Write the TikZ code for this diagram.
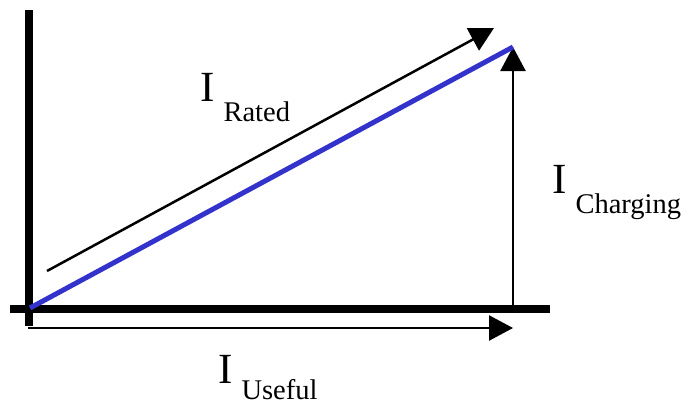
\documentclass[tikz,border=0pt]{standalone}
\usepackage{fontspec}
\setmainfont{Liberation Serif}
\usetikzlibrary{arrows.meta}
\definecolor{lineblue}{RGB}{51,51,204}
\tikzset{
  axis/.style={line width=8pt, black},
  vec/.style={line width=2.5pt, black, -{Triangle[length=24pt,width=25pt]}},
  lbl/.style={inner sep=0pt, anchor=base west, font=\fontsize{43}{43}\selectfont}
}
\newcommand{\isub}[2]{I\hspace{9pt}\raisebox{-#2pt}{\fontsize{28.5}{28.5}\selectfont #1}}
\begin{document}
\begin{tikzpicture}[x=1pt,y=-1pt]
\useasboundingbox (0,0) rectangle (691,405);
% axes
\coordinate (vtop) at (29,10);
\coordinate (vbot) at (29,326);
\coordinate (hl) at (10,309);
\coordinate (hr) at (550,309);
\draw[axis] (vtop) -- (vbot);
\draw[axis] (hl) -- (hr);
% vectors
\coordinate (o) at (30,308);
\coordinate (p) at (513,47);
\coordinate (ustart) at (28,328);
\coordinate (uend) at (513,328);
\coordinate (cstart) at (513,309);
\coordinate (rstart) at (47,271);
\coordinate (rend) at (494,28);
\draw[vec] (ustart) -- (uend);
\draw[vec] (cstart) -- (p);
\draw[vec] (rstart) -- (rend);
\draw[line width=5pt, lineblue] (o) -- (p);
% labels
\node[lbl] (lrated) at (200,101) {\isub{Rated}{20}};
\node[lbl] (lcharg) at (552,193) {\isub{Charging}{20}};
\node[lbl] (luseful) at (218,383) {\isub{Useful}{16}};
\end{tikzpicture}
\end{document}
